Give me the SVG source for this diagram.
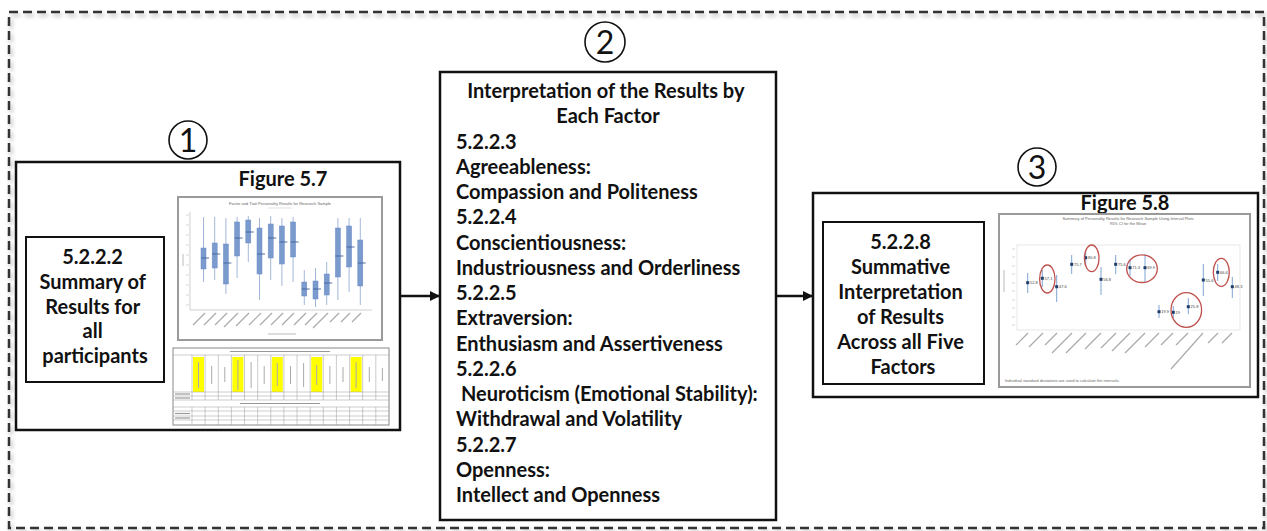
<svg xmlns="http://www.w3.org/2000/svg" width="1267" height="531" viewBox="0 0 1267 531">
  <defs>
    <style>
      .frame { fill: none; stroke: #333; stroke-width: 2.5; stroke-dasharray: 9 5; }
      .box { fill: #fff; stroke: #111; stroke-width: 2.5; }
      .inner { fill: #fff; stroke: #111; stroke-width: 2; }
      .lbl { font-family: Lato, "Liberation Sans", sans-serif; font-weight: 700; font-size: 20px; fill: #111; }
      .num { font-family: Lato, "Liberation Sans", sans-serif; font-weight: 400; font-size: 32px; fill: #111; }
      .ring { fill: #fff; stroke: #111; stroke-width: 1.6; }
      .edge { stroke: #111; stroke-width: 2.5; fill: none; }
      .chartframe { fill: #fff; stroke: #9a9a9a; stroke-width: 2; }
      .axis { stroke: #bbb; stroke-width: 0.7; fill: none; }
      .tiny { font-family: "Liberation Sans", sans-serif; font-size: 4px; fill: #666; }
      .bx { fill: #7b9bcf; stroke: #6a8cc4; stroke-width: 0.5; }
      .wh { stroke: #8aa5d2; stroke-width: 0.8; }
      .md { stroke: #3f5f9a; stroke-width: 0.9; }
      .xl { stroke: #aaa; stroke-width: 1.2; }
      .tg { stroke: #999; stroke-width: 0.5; fill: none; }
      .yel { fill: #ffff00; }
      .pt { fill: #1f3d6b; }
      .ci { stroke: #6f9ad0; stroke-width: 0.9; }
      .red { fill: none; stroke: #c0504d; stroke-width: 1.3; }
      .val { font-family: "Liberation Sans", sans-serif; font-size: 4px; fill: #444; }
    </style>
    <marker id="head" viewBox="0 0 10 10" refX="10" refY="5" markerWidth="10" markerHeight="10" markerUnits="userSpaceOnUse" orient="auto">
      <path d="M0,0 L10,5 L0,10 z" fill="#111"/>
    </marker>
    <filter id="soft" x="-5%" y="-5%" width="110%" height="110%">
      <feGaussianBlur stdDeviation="2"/>
    </filter>
  </defs>

  <!-- outer dashed frame with faint shadow -->
  <rect x="11" y="15" width="1255" height="516" class="frame" stroke="#888" opacity="0.35" filter="url(#soft)"/>
  <rect x="9" y="12" width="1255" height="516" class="frame"/>

  <!-- connectors -->
  <g id="connectors">
    <line x1="400" y1="296" x2="440" y2="296" class="edge" marker-end="url(#head)"/>
    <line x1="776" y1="296" x2="813" y2="296" class="edge" marker-end="url(#head)"/>
  </g>

  <!-- step 1 -->
  <g id="step1">
    <circle cx="188" cy="140" r="19" class="ring"/>
    <text x="188" y="152" text-anchor="middle" class="num">1</text>
    <rect x="16" y="162" width="384" height="268" class="box"/>
    <text x="283" y="186" text-anchor="middle" class="lbl">Figure 5.7</text>

    <g id="summary-box">
      <rect x="26" y="237" width="138" height="145" class="inner"/>
      <text text-anchor="middle" class="lbl">
        <tspan x="95" y="264">5.2.2.2</tspan>
        <tspan x="95" y="289">Summary of</tspan>
        <tspan x="95" y="314">Results for</tspan>
        <tspan x="95" y="338">all</tspan>
        <tspan x="95" y="363">participants</tspan>
      </text>
    </g>

    <!-- box plot chart -->
    <g id="boxplot">
      <rect x="178" y="197" width="204" height="143" class="chartframe"/>
      <text x="280" y="205" text-anchor="middle" class="tiny">Factor and Trait Personality Results for Research Sample</text>
      <line x1="268" y1="208" x2="292" y2="208" stroke="#ccc" stroke-width="0.6"/>
      <path d="M190,212 V310 H372" class="axis"/>
      <g stroke="#bbb" stroke-width="0.6">
        <line x1="186" y1="215" x2="189" y2="215"/><line x1="186" y1="225" x2="189" y2="225"/>
        <line x1="186" y1="235" x2="189" y2="235"/><line x1="186" y1="245" x2="189" y2="245"/>
        <line x1="186" y1="255" x2="189" y2="255"/><line x1="186" y1="265" x2="189" y2="265"/>
        <line x1="186" y1="275" x2="189" y2="275"/><line x1="186" y1="285" x2="189" y2="285"/>
        <line x1="186" y1="295" x2="189" y2="295"/><line x1="186" y1="305" x2="189" y2="305"/>
      </g>
      <line x1="183" y1="254" x2="183" y2="266" stroke="#bbb" stroke-width="1"/>

      <!-- whiskers -->
      <g class="wh">
        <line x1="203.5" y1="217" x2="203.5" y2="282"/>
        <line x1="214.7" y1="217" x2="214.7" y2="280"/>
        <line x1="225.9" y1="218" x2="225.9" y2="294"/>
        <line x1="237.1" y1="217" x2="237.1" y2="278"/>
        <line x1="248.3" y1="216" x2="248.3" y2="262"/>
        <line x1="259.5" y1="218" x2="259.5" y2="300"/>
        <line x1="270.7" y1="216" x2="270.7" y2="280"/>
        <line x1="281.9" y1="218" x2="281.9" y2="286"/>
        <line x1="293.1" y1="217" x2="293.1" y2="282"/>
        <line x1="304.3" y1="270" x2="304.3" y2="305"/>
        <line x1="315.5" y1="268" x2="315.5" y2="307"/>
        <line x1="326.7" y1="262" x2="326.7" y2="305"/>
        <line x1="337.9" y1="218" x2="337.9" y2="300"/>
        <line x1="349.1" y1="218" x2="349.1" y2="292"/>
        <line x1="360.3" y1="218" x2="360.3" y2="305"/>
      </g>
      <!-- boxes -->
      <g class="bx">
        <rect x="201" y="248" width="5" height="21"/>
        <rect x="212.2" y="243" width="5" height="25"/>
        <rect x="223.4" y="244" width="5" height="40"/>
        <rect x="234.6" y="222" width="5" height="34"/>
        <rect x="245.8" y="220" width="5" height="23"/>
        <rect x="257" y="228" width="5" height="46"/>
        <rect x="268.2" y="224" width="5" height="34"/>
        <rect x="279.4" y="226" width="5" height="38"/>
        <rect x="290.6" y="222" width="5" height="35"/>
        <rect x="301.8" y="282" width="5" height="14"/>
        <rect x="313" y="281" width="5" height="18"/>
        <rect x="324.2" y="274" width="5" height="21"/>
        <rect x="335.4" y="228" width="5" height="49"/>
        <rect x="346.6" y="226" width="5" height="41"/>
        <rect x="357.8" y="240" width="5" height="46"/>
      </g>
      <!-- medians -->
      <g class="md">
        <line x1="201" y1="258" x2="209" y2="258"/>
        <line x1="212.2" y1="254" x2="220.2" y2="254"/>
        <line x1="223.4" y1="263" x2="231.4" y2="263"/>
        <line x1="234.6" y1="238" x2="242.6" y2="238"/>
        <line x1="245.8" y1="232" x2="253.8" y2="232"/>
        <line x1="257" y1="254" x2="265" y2="254"/>
        <line x1="268.2" y1="238" x2="276.2" y2="238"/>
        <line x1="279.4" y1="242" x2="287.4" y2="242"/>
        <line x1="290.6" y1="242" x2="298.6" y2="242"/>
        <line x1="301.8" y1="289" x2="309.8" y2="289"/>
        <line x1="313" y1="289" x2="321" y2="289"/>
        <line x1="324.2" y1="283" x2="332.2" y2="283"/>
        <line x1="335.4" y1="256" x2="343.4" y2="256"/>
        <line x1="346.6" y1="247" x2="354.6" y2="247"/>
        <line x1="357.8" y1="263" x2="365.8" y2="263"/>
      </g>
      <!-- slanted category labels -->
      <g class="xl">
        <line x1="205" y1="313" x2="193" y2="325"/>
        <line x1="216" y1="313" x2="204" y2="325"/>
        <line x1="227" y1="313" x2="215" y2="325"/>
        <line x1="238" y1="313" x2="224" y2="327"/>
        <line x1="249" y1="313" x2="236" y2="326"/>
        <line x1="261" y1="313" x2="249" y2="325"/>
        <line x1="272" y1="313" x2="260" y2="325"/>
        <line x1="283" y1="313" x2="271" y2="325"/>
        <line x1="294" y1="313" x2="282" y2="325"/>
        <line x1="306" y1="313" x2="294" y2="325"/>
        <line x1="317" y1="313" x2="305" y2="325"/>
        <line x1="328" y1="313" x2="313" y2="328"/>
        <line x1="339" y1="313" x2="330" y2="322"/>
        <line x1="350" y1="313" x2="341" y2="322"/>
        <line x1="361" y1="313" x2="352" y2="322"/>
      </g>
      <line x1="268" y1="334" x2="296" y2="334" stroke="#bbb" stroke-width="1"/>
    </g>

    <!-- percentile table -->
    <g id="table">
      <rect x="173" y="348" width="216" height="77" fill="#fff" stroke="#888" stroke-width="1"/>
      <g class="yel">
        <rect x="193" y="357" width="11" height="35"/>
        <rect x="232.4" y="357" width="11" height="35"/>
        <rect x="271.8" y="357" width="11" height="35"/>
        <rect x="311.2" y="357" width="11" height="35"/>
        <rect x="350.6" y="357" width="11" height="35"/>
      </g>
      <g class="tg">
        <line x1="173" y1="355" x2="389" y2="355"/>
        <line x1="173" y1="392" x2="389" y2="392"/>
        <line x1="173" y1="396" x2="389" y2="396"/>
        <line x1="173" y1="400" x2="389" y2="400"/>
        <line x1="173" y1="407" x2="389" y2="407"/>
        <line x1="173" y1="411" x2="389" y2="411"/>
        <line x1="173" y1="416" x2="389" y2="416"/>
        <line x1="173" y1="420" x2="389" y2="420"/>
        <path d="M192,355V400 M205.1,355V400 M218.3,355V400 M231.4,355V400 M244.5,355V400 M257.7,355V400 M270.8,355V400 M283.9,355V400 M297,355V400 M310.2,355V400 M323.3,355V400 M336.4,355V400 M349.6,355V400 M362.7,355V400 M375.8,355V400"/>
        <path d="M192,407V425 M205.1,407V425 M218.3,407V425 M231.4,407V425 M244.5,407V425 M257.7,407V425 M270.8,407V425 M283.9,407V425 M297,407V425 M310.2,407V425 M323.3,407V425 M336.4,407V425 M349.6,407V425 M362.7,407V425 M375.8,407V425"/>
      </g>
      <!-- vertical column headings -->
      <g stroke="#aaa" stroke-width="1">
        <line x1="198.5" y1="362" x2="198.5" y2="388"/>
        <line x1="211.7" y1="366" x2="211.7" y2="384"/>
        <line x1="224.8" y1="367" x2="224.8" y2="382"/>
        <line x1="237.9" y1="360" x2="237.9" y2="390"/>
        <line x1="251.1" y1="362" x2="251.1" y2="388"/>
        <line x1="264.2" y1="366" x2="264.2" y2="384"/>
        <line x1="277.3" y1="363" x2="277.3" y2="386"/>
        <line x1="290.5" y1="366" x2="290.5" y2="384"/>
        <line x1="303.6" y1="363" x2="303.6" y2="387"/>
        <line x1="316.7" y1="365" x2="316.7" y2="385"/>
        <line x1="329.9" y1="366" x2="329.9" y2="384"/>
        <line x1="343" y1="367" x2="343" y2="382"/>
        <line x1="356.1" y1="362" x2="356.1" y2="388"/>
        <line x1="369.3" y1="367" x2="369.3" y2="382"/>
        <line x1="382.4" y1="368" x2="382.4" y2="381"/>
      </g>
      <g stroke="#999" stroke-width="1.2">
        <line x1="230" y1="351.5" x2="330" y2="351.5"/>
        <line x1="240" y1="403.5" x2="320" y2="403.5"/>
        <line x1="175" y1="394" x2="190" y2="394"/>
        <line x1="175" y1="398" x2="190" y2="398"/>
        <line x1="175" y1="413.5" x2="190" y2="413.5"/>
        <line x1="175" y1="418" x2="190" y2="418"/>
      </g>
    </g>
  </g>

  <!-- step 2 -->
  <g id="step2">
    <circle cx="605" cy="42" r="20" class="ring"/>
    <text x="605" y="54" text-anchor="middle" class="num">2</text>
    <rect x="440" y="72" width="336" height="448" class="box"/>
    <text text-anchor="middle" class="lbl">
      <tspan x="608" y="98">Interpretation of the Results by</tspan>
      <tspan x="608" y="123">Each Factor</tspan>
    </text>
    <text class="lbl">
      <tspan x="456" y="149">5.2.2.3</tspan>
      <tspan x="456" y="174">Agreeableness:</tspan>
      <tspan x="456" y="199">Compassion and Politeness</tspan>
      <tspan x="456" y="224">5.2.2.4</tspan>
      <tspan x="456" y="250">Conscientiousness:</tspan>
      <tspan x="456" y="275">Industriousness and Orderliness</tspan>
      <tspan x="456" y="300">5.2.2.5</tspan>
      <tspan x="456" y="325">Extraversion:</tspan>
      <tspan x="456" y="351">Enthusiasm and Assertiveness</tspan>
      <tspan x="456" y="376">5.2.2.6</tspan>
      <tspan x="461" y="401">Neuroticism (Emotional Stability):</tspan>
      <tspan x="456" y="426">Withdrawal and Volatility</tspan>
      <tspan x="456" y="452">5.2.2.7</tspan>
      <tspan x="456" y="477">Openness:</tspan>
      <tspan x="456" y="502">Intellect and Openness</tspan>
    </text>
  </g>

  <!-- step 3 -->
  <g id="step3">
    <circle cx="1037" cy="167" r="19" class="ring"/>
    <text x="1037" y="179" text-anchor="middle" class="num">3</text>
    <rect x="813" y="193" width="445" height="204" class="box"/>
    <text x="1125" y="210" text-anchor="middle" class="lbl">Figure 5.8</text>

    <g id="summative-box">
      <rect x="823" y="222" width="161" height="162" class="inner"/>
      <text text-anchor="middle" class="lbl">
        <tspan x="903" y="249">5.2.2.8</tspan>
        <tspan x="903" y="274">Summative</tspan>
        <tspan x="903" y="299">Interpretation</tspan>
        <tspan x="903" y="324">of Results</tspan>
        <tspan x="903" y="349">Across all Five</tspan>
        <tspan x="903" y="374">Factors</tspan>
      </text>
    </g>

    <!-- interval plot chart -->
    <g id="intervalplot">
      <rect x="999" y="214" width="251" height="173" class="chartframe"/>
      <text x="1128" y="220" text-anchor="middle" class="tiny">Summary of Personality Results for Research Sample Using Interval Plots</text>
      <text x="1128" y="225" text-anchor="middle" class="tiny" font-size="3px">95% CI for the Mean</text>
      <rect x="1017" y="245" width="223" height="85" fill="none" stroke="#ddd" stroke-width="0.7"/>
      <g stroke="#bbb" stroke-width="0.6">
        <line x1="1012" y1="249" x2="1015" y2="249"/><line x1="1012" y1="257" x2="1015" y2="257"/>
        <line x1="1012" y1="266" x2="1015" y2="266"/><line x1="1012" y1="274" x2="1015" y2="274"/>
        <line x1="1012" y1="283" x2="1015" y2="283"/><line x1="1012" y1="291" x2="1015" y2="291"/>
        <line x1="1012" y1="300" x2="1015" y2="300"/><line x1="1012" y1="308" x2="1015" y2="308"/>
        <line x1="1012" y1="317" x2="1015" y2="317"/><line x1="1012" y1="325" x2="1015" y2="325"/>
      </g>
      <line x1="1004" y1="270" x2="1004" y2="292" stroke="#bbb" stroke-width="1"/>

      <!-- confidence intervals -->
      <g class="ci">
        <line x1="1027.7" y1="273" x2="1027.7" y2="293"/>
        <line x1="1042.3" y1="270" x2="1042.3" y2="287"/>
        <line x1="1056.7" y1="275" x2="1056.7" y2="302"/>
        <line x1="1071.7" y1="255" x2="1071.7" y2="274"/>
        <line x1="1085.7" y1="250" x2="1085.7" y2="265"/>
        <line x1="1101" y1="267" x2="1101" y2="295"/>
        <line x1="1115.7" y1="255" x2="1115.7" y2="274"/>
        <line x1="1130" y1="259" x2="1130" y2="276"/>
        <line x1="1145" y1="254" x2="1145" y2="282"/>
        <line x1="1159" y1="305" x2="1159" y2="318"/>
        <line x1="1173.3" y1="306" x2="1173.3" y2="318"/>
        <line x1="1188.3" y1="298" x2="1188.3" y2="314"/>
        <line x1="1203.3" y1="264" x2="1203.3" y2="296"/>
        <line x1="1217.7" y1="264" x2="1217.7" y2="281"/>
        <line x1="1232.3" y1="277" x2="1232.3" y2="298"/>
      </g>
      <!-- means -->
      <g class="pt">
        <rect x="1026.2" y="281.2" width="3" height="3"/>
        <rect x="1040.8" y="276.8" width="3" height="3"/>
        <rect x="1055.2" y="285.2" width="3" height="3"/>
        <rect x="1070.2" y="262.8" width="3" height="3"/>
        <rect x="1084.2" y="256.2" width="3" height="3"/>
        <rect x="1099.5" y="277.8" width="3" height="3"/>
        <rect x="1114.2" y="262.8" width="3" height="3"/>
        <rect x="1128.5" y="266.2" width="3" height="3"/>
        <rect x="1143.5" y="266.2" width="3" height="3"/>
        <rect x="1157.5" y="310.2" width="3" height="3"/>
        <rect x="1171.8" y="310.8" width="3" height="3"/>
        <rect x="1186.8" y="305.2" width="3" height="3"/>
        <rect x="1201.8" y="278.5" width="3" height="3"/>
        <rect x="1216.2" y="270.8" width="3" height="3"/>
        <rect x="1230.8" y="285.2" width="3" height="3"/>
      </g>
      <g class="val">
        <text x="1030" y="284.2">52.8</text>
        <text x="1044.6" y="279.8">57.1</text>
        <text x="1059" y="288.2">47.6</text>
        <text x="1074" y="265.8">75.7</text>
        <text x="1088" y="259.2">80.8</text>
        <text x="1103.3" y="280.8">56.8</text>
        <text x="1118" y="265.8">75.6</text>
        <text x="1132.3" y="269.2">71.3</text>
        <text x="1147.3" y="269.2">69.9</text>
        <text x="1161.3" y="313.2">19.9</text>
        <text x="1175.6" y="313.8">19</text>
        <text x="1190.6" y="308.2">25.8</text>
        <text x="1205.6" y="281.5">55.6</text>
        <text x="1220" y="273.8">66.6</text>
        <text x="1234.6" y="288.2">48.3</text>
      </g>
      <!-- highlighted results -->
      <ellipse cx="1047.3" cy="279" rx="7.7" ry="14" class="red"/>
      <ellipse cx="1091.7" cy="258.3" rx="7.3" ry="13.3" class="red"/>
      <ellipse cx="1142" cy="268.7" rx="15.3" ry="13.8" class="red"/>
      <ellipse cx="1186.3" cy="310" rx="15.3" ry="17.3" class="red"/>
      <ellipse cx="1221.3" cy="272.3" rx="8" ry="14" class="red"/>
      <!-- slanted category labels -->
      <g class="xl">
        <line x1="1028" y1="333" x2="1016" y2="345"/>
        <line x1="1043" y1="333" x2="1029" y2="347"/>
        <line x1="1057" y1="333" x2="1045" y2="345"/>
        <line x1="1072" y1="333" x2="1052" y2="353"/>
        <line x1="1086" y1="333" x2="1066" y2="353"/>
        <line x1="1101" y1="333" x2="1085" y2="349"/>
        <line x1="1116" y1="333" x2="1101" y2="348"/>
        <line x1="1130" y1="333" x2="1112" y2="351"/>
        <line x1="1145" y1="333" x2="1125" y2="353"/>
        <line x1="1159" y1="333" x2="1145" y2="347"/>
        <line x1="1173" y1="333" x2="1161" y2="345"/>
        <line x1="1188" y1="333" x2="1176" y2="345"/>
        <line x1="1203" y1="333" x2="1171" y2="369"/>
        <line x1="1218" y1="333" x2="1208" y2="343"/>
        <line x1="1232" y1="333" x2="1222" y2="343"/>
      </g>
      <text x="1005" y="382" class="tiny">Individual standard deviations are used to calculate the intervals.</text>
    </g>
  </g>
</svg>
